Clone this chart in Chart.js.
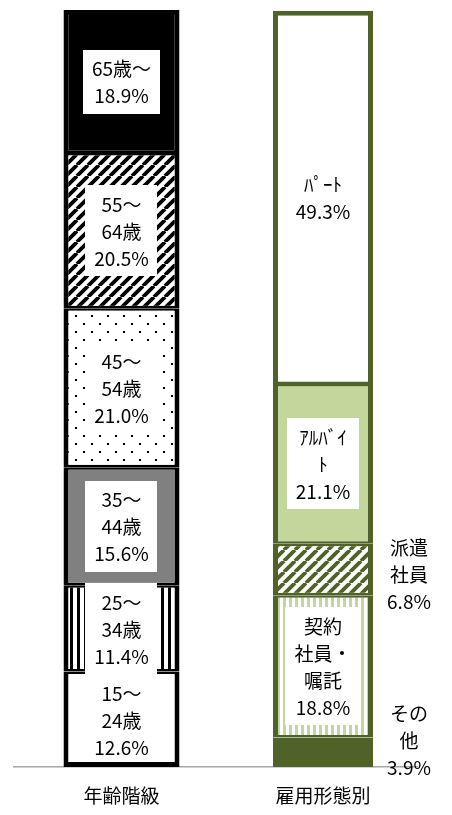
<!DOCTYPE html>
<html><head><meta charset="utf-8">
<script src="https://cdn.jsdelivr.net/npm/chart.js@4.4.1/dist/chart.umd.min.js"></script>
<style>
html,body{margin:0;padding:0;background:#fff;width:452px;height:815px;overflow:hidden;}
#c1{position:absolute;left:0;top:0;}
#c2{position:absolute;left:229px;top:0;}
</style></head><body>
<canvas id="c1" width="229" height="815"></canvas>
<canvas id="c2" width="223" height="815"></canvas>
<script>
// ---- data ----
const ageGroupLabel = '年齢階級';
const ageCategories = ['15～24歳','25～34歳','35～44歳','45～54歳','55～64歳','65歳～'];
const ageValues = [12.6, 11.4, 15.6, 21.0, 20.5, 18.9];
const ageLabelLines = [['15～','24歳'],['25～','34歳'],['35～','44歳'],['45～','54歳'],['55～','64歳'],['65歳～']];

const empGroupLabel = '雇用形態別';
const empCategories = ['その他','契約社員・嘱託','派遣社員','アルバイト','パート'];
const empValues = [3.9, 18.8, 6.8, 21.1, 49.3];
const empLabelLines = [['その','他'],['契約','社員・','嘱託'],['派遣','社員'],['ｱﾙﾊﾞｲ','ﾄ'],['ﾊﾟｰﾄ']];

// ---- patterns ----
function tile(w, h, fn) {
  const c = document.createElement('canvas'); c.width = w; c.height = h;
  const g = c.getContext('2d'); fn(g, w, h);
  return g.createPattern(c, 'repeat');
}
function diag(color, p, lw) {
  return tile(p, p, (g) => {
    g.fillStyle = '#fff'; g.fillRect(0, 0, p, p);
    g.strokeStyle = color; g.lineWidth = lw; g.beginPath();
    for (const k of [-p, 0, p]) { g.moveTo(k, p); g.lineTo(k + p, 0); }
    g.stroke();
  });
}
function vstripe(color, p, bw) {
  return tile(p, 4, (g) => {
    g.fillStyle = '#fff'; g.fillRect(0, 0, p, 4);
    g.fillStyle = color; g.fillRect(0, 0, bw, 4);
  });
}
const dotPattern = tile(16, 16, (g) => {
  g.fillStyle = '#fff'; g.fillRect(0, 0, 16, 16);
  g.fillStyle = '#000'; g.fillRect(3, 3, 2, 2); g.fillRect(11, 11, 2, 2);
});

const OLIVE = '#4f6228', LIGHTGREEN = '#c3d69b';
const ageFills = ['#ffffff', vstripe('#000', 7, 3), '#808080', dotPattern, diag('#000', 11, 3.8), '#000000'];
const ageModes = [{type:'plain'},{type:'box'},{type:'box'},{type:'box'},{type:'box'},{type:'box'}];
const empFills = [OLIVE, vstripe(LIGHTGREEN, 6, 3), diag(OLIVE, 11, 3.8), LIGHTGREEN, '#ffffff'];
const empModes = [{type:'outside',dx:36,dy:-12},{type:'box'},{type:'outside',dx:36,dy:4},{type:'box'},{type:'plain'}];

const FONT = '"Noto Sans CJK JP", "Noto Sans", sans-serif';

function labelPlugin(linesArr, values, modes) {
  return {
    id: 'segLabels',
    afterDatasetsDraw(chart) {
      const ctx = chart.ctx; ctx.save();
      ctx.font = '19px ' + FONT; ctx.textAlign = 'center'; ctx.textBaseline = 'middle';
      const lh = 27;
      chart.data.datasets.forEach((ds, i) => {
        const el = chart.getDatasetMeta(i).data[0];
        const lines = linesArr[i].concat([values[i].toFixed(1) + '%']);
        const mode = modes[i];
        let cx = el.x, cy = (el.y + el.base) / 2;
        if (mode.type === 'outside') { cx = el.x + el.width / 2 + mode.dx; cy += mode.dy; }
        if (mode.type === 'box') {
          const w = Math.max(...lines.map(t => ctx.measureText(t).width)) + 18;
          const h = lines.length * lh + 10;
          ctx.fillStyle = '#fff';
          ctx.fillRect(Math.round(cx - w / 2), Math.round(cy - h / 2), Math.round(w), Math.round(h));
        }
        ctx.fillStyle = '#000';
        lines.forEach((t, k) => ctx.fillText(t, cx, cy + (k - (lines.length - 1) / 2) * lh + 1));
      });
      ctx.restore();
    }
  };
}

function makeChart(id, group, cats, vals, fills, border, thickness, padL, padR, lines, modes) {
  const n = cats.length;
  return new Chart(document.getElementById(id), {
    type: 'bar',
    data: {
      labels: [group],
      datasets: cats.map((c, i) => ({
        label: c,
        data: [vals[i]],
        backgroundColor: fills[i],
        borderColor: border,
        borderWidth: { left: 5, right: 5, top: i === n - 1 ? 5 : 2.5, bottom: i === 0 ? 5 : 2.5 },
        borderSkipped: false,
        inflateAmount: 0,
        barThickness: thickness,
        stack: 's'
      }))
    },
    options: {
      responsive: false,
      animation: false,
      devicePixelRatio: 1,
      layout: { padding: { top: 10, left: padL, right: padR, bottom: 0 } },
      plugins: { legend: { display: false }, tooltip: { enabled: false } },
      scales: {
        x: {
          stacked: true,
          grid: { display: false, drawTicks: false },
          border: { display: true, color: '#a6a6a6', width: 1.5 },
          ticks: { color: '#000', font: { family: FONT, size: 19 }, padding: 17 },
          afterFit: (s) => { s.height = 48; }
        },
        y: { stacked: true, display: false, min: 0, max: 100 }
      }
    },
    plugins: [labelPlugin(lines, vals, modes)]
  });
}

makeChart('c1', ageGroupLabel, ageCategories, ageValues, ageFills, '#000000', 116, 14, 0, ageLabelLines, ageModes);
makeChart('c2', empGroupLabel, empCategories, empValues, empFills, OLIVE, 100, 0, 35, empLabelLines, empModes);
</script>
</body></html>
